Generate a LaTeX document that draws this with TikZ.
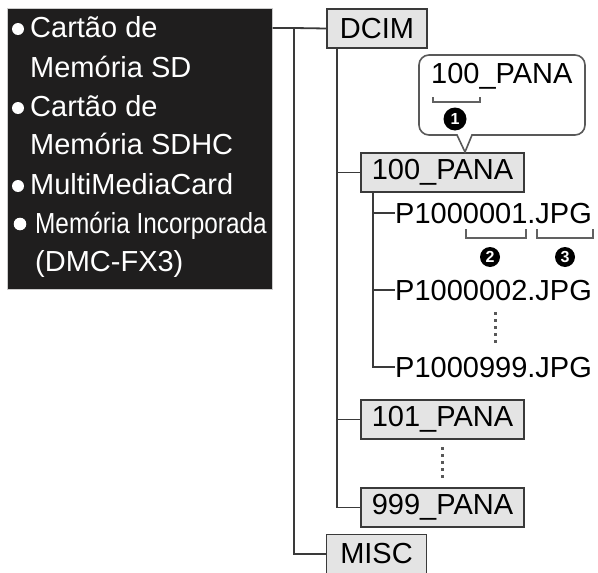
\documentclass[tikz,border=0pt]{standalone}
\usepackage{fontspec}
\setmainfont{Liberation Sans}
\definecolor{ln}{HTML}{3A3A3A}
\definecolor{bx}{HTML}{E4E4E4}
\definecolor{blk}{HTML}{1F1E1E}
\begin{document}
\begin{tikzpicture}[x=1pt,y=-1pt,
 folder/.style={draw=ln, line width=1.8pt, fill=bx, minimum height=39pt, inner sep=0pt, font=\fontsize{29}{34}\selectfont},
 tree/.style={draw=ln, line width=1.8pt},
 wtext/.style={anchor=base west, text=white, inner sep=0pt, font=\fontsize{29}{34}\selectfont},
 ftext/.style={anchor=base west, inner sep=0pt, font=\fontsize{29}{34}\selectfont},
 numtxt/.style={text=white, inner sep=0pt, font=\fontsize{16}{16}\selectfont\bfseries},
 brk/.style={draw=ln!80, line width=1.5pt},
 vdots/.style={draw=ln!85, line width=3pt, dash pattern=on 3pt off 4pt}]
\useasboundingbox (0,0) rectangle (598,573);
% card list
\node[fill=blk, draw=gray!40, line width=1pt, minimum width=265pt, minimum height=281pt, inner sep=0pt] (card) at (139.5,148.5) {};
\node[wtext] (t1) at (30,37) {Cartão de};
\node[wtext] (t2) at (30,77) {Memória SD};
\node[wtext] (t3) at (30,116) {Cartão de};
\node[wtext] (t4) at (30,154) {Memória SDHC};
\node[wtext] (t5) at (30,194) {MultiMediaCard};
\node[wtext] (t6) at (35,233) {\scalebox{0.84}[1]{Memória Incorporada}};
\node[wtext] (t7) at (35,271) {(DMC-FX3)};
\fill[white] (18,29) circle[radius=6pt];
\fill[white] (18,108) circle[radius=6pt];
\fill[white] (18,186) circle[radius=6pt];
\fill[white] (20,224) circle[radius=6.3pt];
% folders
\node[folder, minimum width=100pt] (dcim) at (377,28.5) {DCIM};
\node[folder, minimum width=163pt] (p100) at (442.5,172.5) {100\_PANA};
\node[folder, minimum width=163pt] (p101) at (442.5,419.5) {101\_PANA};
\node[folder, minimum width=163pt] (p999) at (442.5,507.5) {999\_PANA};
\node[folder, minimum width=100pt] (misc) at (376.5,554) {MISC};
% files
\node[ftext] (f1) at (395,223) {P1000001.JPG};
\node[ftext] (f2) at (395,300) {P1000002.JPG};
\node[ftext] (f3) at (395,377) {P1000999.JPG};
% tree connectors
\coordinate (j0) at (294,28);
\draw[tree] (card.east |- j0) -- (j0) -- (dcim.west);
\draw[tree] (j0) -- (j0 |- misc.west) -- (misc.west);
\coordinate (j1) at (337,0);
\draw[tree] (dcim.south -| j1) -- (j1 |- p999.west) -- (p999.west);
\draw[tree] (j1 |- p100.west) -- (p100.west);
\draw[tree] (j1 |- p101.west) -- (p101.west);
\coordinate (j2) at (373,0);
\draw[tree] (p100.south -| j2) -- (j2 |- f3.west) -- (f3.west);
\draw[tree] (j2 |- f1.west) -- (f1.west);
\draw[tree] (j2 |- f2.west) -- (f2.west);
% callout
\coordinate (tip) at (465,152);
\draw[draw=gray!70!black, line width=1.6pt, fill=white] (tip) -- (457,135) [rounded corners=10pt] -- (419,135) -- (419,55) -- (585,55) -- (585,135) [sharp corners] -- (472,135) -- cycle;
\node[ftext] (ct) at (431,83) {100\_PANA};
\draw[brk] (433,97) -- (433,102) -- (480,102) -- (480,97);
\coordinate (c1) at (455,119);
\fill[black] (c1) circle[radius=11.5pt];
\node[numtxt] (n1) at (c1) {1};
% file name parts
\draw[brk] (466,229) -- (466,238) -- (526,238) -- (526,229);
\draw[brk] (537,229) -- (537,238) -- (593,238) -- (593,229);
\coordinate (c2) at (490,257);
\coordinate (c3) at (565,257);
\fill[black] (c2) circle[radius=10pt];
\fill[black] (c3) circle[radius=10pt];
\node[numtxt] (n2) at (c2) {2};
\node[numtxt] (n3) at (c3) {3};
% ellipses
\draw[vdots] (495,312) -- (495,344);
\draw[vdots] (442,447) -- (442,479);
\end{tikzpicture}
\end{document}
